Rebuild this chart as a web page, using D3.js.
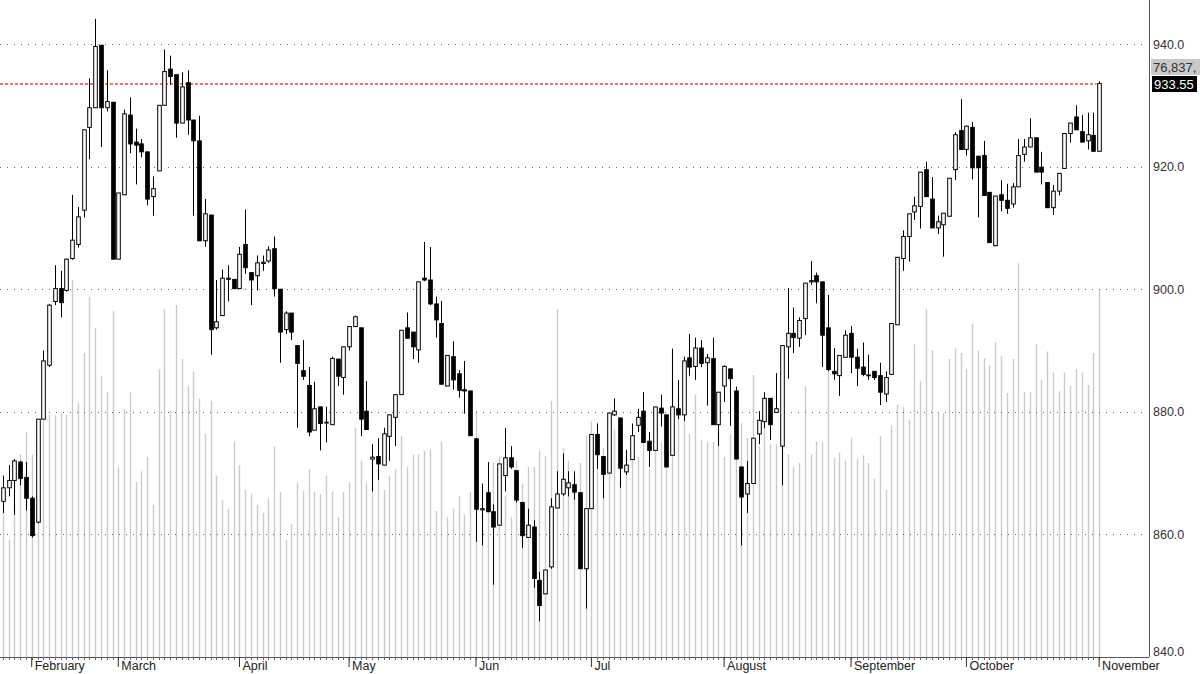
<!DOCTYPE html>
<html><head><meta charset="utf-8">
<script src="https://cdn.jsdelivr.net/npm/d3@7"></script>
<style>body{margin:0;background:#fff} svg{display:block;font-family:"Liberation Sans",Arial,sans-serif}</style>
</head><body>
<svg id="c" width="1200" height="674"></svg>
<script>
const opens = [
865.4,867.6,868.8,871.8,869.3,865.9,862.0,878.8,887.6,898.0,900.1,899.8,905.0,907.3,912.9,926.4,929.6,939.8,929.6,930.5,904.9,915.4,928.4,924.0,
923.7,922.4,915.1,919.3,930.0,935.9,935.0,927.1,933.7,927.6,924.2,907.9,912.1,893.7,895.7,901.6,901.6,900.1,907.3,902.7,902.2,904.2,904.6,906.6,
900.0,893.4,896.1,890.8,886.7,884.3,877.0,880.8,878.3,877.9,888.6,885.6,890.6,893.9,893.7,880.1,872.3,872.7,871.3,876.0,879.1,882.8,893.7,
893.0,890.1,901.8,901.5,897.6,894.4,884.2,889.0,886.2,883.6,883.4,875.6,864.0,866.8,863.7,861.5,869.6,872.5,870.4,865.2,859.5,861.2,852.5,850.3,
854.7,864.3,866.6,867.6,868.1,866.8,854.4,864.2,876.3,872.7,870.0,879.5,879.0,870.2,872.2,877.8,880.1,875.2,873.7,880.6,879.5,872.9,880.5,
879.5,888.8,887.4,890.4,888.0,888.7,877.9,884.2,887.0,883.4,871.0,866.6,868.3,876.4,878.4,882.2,879.9,874.4,890.6,892.8,892.0,895.2,901.2,902.2,
901.2,893.7,886.6,885.9,888.9,892.8,888.9,887.3,886.0,886.6,885.9,882.9,886.1,894.2,905.0,908.6,912.6,913.5,919.5,914.7,910.0,910.5,911.9,919.5,
925.9,922.8,926.4,921.7,921.8,915.8,907.1,915.4,914.5,913.9,916.7,922.0,923.2,924.7,919.9,917.4,913.3,916.0,919.7,925.4,928.1,925.7,924.2,925.1,922.5];
const highs = [
869.6,871.3,872.3,872.0,871.8,866.2,878.8,890.0,897.6,903.9,903.0,905.0,915.4,913.4,926.0,934.4,944.1,939.8,935.7,930.5,915.7,929.3,931.3,926.2,
924.5,922.4,918.4,930.0,939.1,938.1,935.0,935.4,935.7,927.6,928.3,914.7,912.1,901.5,903.2,903.9,901.6,906.9,913.0,902.7,905.5,905.5,907.0,908.6,
900.0,896.4,896.1,890.8,891.7,887.3,884.9,880.8,880.8,889.0,888.6,890.6,893.9,895.7,893.7,885.0,874.7,875.7,877.4,879.5,882.8,893.3,896.2,
893.0,901.2,907.7,906.9,898.8,898.1,889.2,891.5,886.8,888.3,883.4,875.6,868.3,871.8,864.9,871.5,877.4,874.4,870.4,865.2,864.2,862.3,853.9,854.2,
865.9,870.3,873.2,870.3,870.3,866.8,864.2,876.3,878.1,872.7,879.8,882.2,879.0,873.8,878.1,880.5,883.2,876.7,880.8,882.8,879.5,890.3,885.2,
889.0,892.7,892.1,891.7,889.4,892.1,883.2,887.6,887.0,884.1,871.0,872.0,875.7,880.1,883.2,882.2,886.3,890.8,900.2,897.0,895.4,901.0,904.6,902.7,
901.2,899.1,890.4,889.2,893.3,894.0,890.3,891.3,889.3,886.6,888.0,886.6,894.4,905.2,909.6,912.3,915.1,919.1,920.8,918.3,912.0,912.4,918.1,925.6,
931.0,926.7,927.3,921.7,924.2,915.8,915.2,917.8,917.2,917.3,924.5,924.5,927.9,924.7,922.4,917.4,917.0,918.9,925.4,927.1,930.0,928.4,928.8,928.8,933.9];
const lows = [
863.5,866.2,863.2,868.0,863.9,859.5,861.8,878.8,887.3,897.4,895.4,899.6,904.8,906.8,911.7,921.2,929.6,923.2,929.0,904.9,904.9,915.4,922.2,917.1,
921.5,913.7,912.0,919.3,930.0,933.4,924.7,927.1,925.2,912.0,907.9,906.9,889.3,893.4,895.7,898.0,900.0,900.1,902.5,897.4,899.8,903.0,904.3,898.8,
888.0,892.7,891.7,877.4,885.2,876.0,877.0,873.7,875.0,877.9,884.2,882.8,890.0,893.9,876.0,877.1,867.0,868.9,871.3,872.0,874.4,882.8,892.0,
888.6,888.0,901.3,897.4,892.1,884.5,884.2,883.6,882.3,879.7,876.1,858.8,858.2,863.7,851.8,861.5,867.0,870.7,865.2,857.8,859.5,851.3,845.8,850.3,
854.4,864.3,866.3,866.2,865.7,854.4,847.9,864.2,870.7,865.9,870.0,879.3,867.6,869.7,872.2,876.7,875.0,871.0,873.7,877.6,871.0,872.9,878.8,
878.5,885.9,885.2,887.3,881.0,877.9,874.4,881.6,877.7,872.3,858.2,863.5,868.3,874.7,877.3,875.4,879.9,868.0,885.4,889.6,890.6,892.5,900.7,897.7,
887.3,886.6,885.2,882.6,888.9,886.3,884.2,885.8,885.2,885.2,881.1,881.6,886.1,894.2,903.0,904.5,911.3,909.9,915.1,910.0,909.0,905.3,911.9,917.8,
922.8,921.8,917.9,911.7,915.3,907.6,907.0,912.7,912.3,913.3,916.7,920.8,923.2,919.1,917.1,913.3,912.1,915.3,919.7,923.9,926.0,924.0,922.8,922.5,922.5];
const closes = [
867.6,868.8,872.0,869.1,865.9,859.8,878.8,888.3,897.4,900.1,897.8,904.9,908.0,911.8,926.0,929.6,939.6,929.6,930.6,904.9,915.7,928.6,923.7,923.5,
922.4,914.7,916.4,930.0,935.5,934.7,927.1,933.0,927.6,924.2,907.9,912.3,893.4,894.7,901.8,901.8,900.1,905.7,903.5,901.5,904.3,904.4,906.4,900.1,
893.0,896.1,893.0,887.9,885.8,876.7,880.5,878.1,878.3,888.7,885.8,890.6,893.9,895.5,878.8,877.1,872.6,871.5,876.4,879.5,882.8,893.3,892.0,
890.6,901.2,901.5,897.6,895.0,884.5,889.2,885.2,883.5,883.4,876.1,864.1,864.2,863.7,861.2,871.5,872.5,871.0,865.6,859.8,861.5,852.8,848.4,854.2,
864.5,866.6,869.0,868.4,866.9,854.4,864.2,876.3,873.0,869.8,879.8,880.1,870.8,871.3,876.1,879.1,875.0,873.7,880.8,879.8,871.0,880.8,879.5,
888.3,887.3,890.4,887.9,888.8,877.9,883.2,887.4,885.4,872.3,866.1,868.3,875.7,878.6,882.2,877.9,880.5,890.8,892.8,892.1,894.9,901.0,901.4,901.2,
892.5,886.9,886.2,889.2,892.5,888.9,887.1,886.1,886.0,885.6,883.2,885.6,894.4,905.2,908.6,912.3,913.6,919.1,915.1,910.0,911.0,912.4,918.1,925.2,
922.8,926.6,919.8,919.8,915.3,907.6,915.2,914.5,913.2,916.7,921.8,923.2,924.7,919.1,919.1,913.3,916.0,918.9,925.4,927.1,926.0,924.0,925.2,922.5,933.55];
// volume in millions of shares
const volumes = [
35.3,24.5,41.0,42.3,47.0,42.3,49.6,50.5,50.5,50.5,50.9,50.5,78.7,53.1,63.5,75.2,68.7,58.7,55.3,72.2,39.7,51.8,55.3,36.6,
38.8,41.8,31.8,60.1,72.6,51.4,73.5,62.2,56.6,59.6,54.0,46.6,53.5,37.9,32.7,31.0,45.0,40.1,34.9,34.0,31.8,30.1,33.1,44.0,
34.5,24.5,27.7,36.4,34.6,39.2,34.5,34.0,37.9,34.6,29.1,34.5,36.4,47.9,41.0,36.4,42.3,38.8,34.9,37.9,39.2,46.2,39.7,
42.3,42.3,43.1,43.3,30.5,44.9,29.2,31.0,33.6,29.7,34.5,51.4,31.0,34.9,40.5,41.8,33.6,29.2,41.0,36.2,39.7,39.7,43.1,42.0,
53.5,72.6,43.6,41.0,37.5,40.5,46.2,49.2,44.4,43.6,44.4,47.5,44.4,43.1,45.0,41.8,45.7,39.2,44.0,44.9,44.0,64.1,54.8,
50.5,46.6,54.8,45.3,44.9,44.9,47.5,41.8,46.6,53.1,48.8,45.7,58.9,44.0,48.3,44.4,44.4,48.3,42.3,39.7,40.5,56.6,42.3,45.0,
44.9,60.5,41.6,42.7,41.0,45.7,41.4,42.1,40.5,37.2,46.2,34.9,48.3,52.7,52.2,49.6,65.3,57.6,72.6,64.0,50.9,50.9,62.2,64.4,
63.5,60.1,69.6,64.0,62.4,60.9,65.7,62.8,55.1,62.2,82.2,55.3,55.3,65.3,57.9,63.8,59.4,55.5,59.4,56.6,60.1,59.4,56.8,63.5,76.837];
const monthLabels = ["February","March","April","May","Jun","Jul","August","September","October","November"];
const monthStart = [5,20,41,60,82,102,125,147,167,190];
const priceTicks = [840,860,880,900,920,940];
const gridTicks = [860,880,900,920,940];

const N = closes.length;
const svg = d3.select("#c");
const plotRight = 1149, bottom = 657;
const FONT = '"Liberation Sans",Arial,sans-serif';

const x = d3.scaleBand().domain(d3.range(N)).range([0, 1102]).paddingInner(0);
const cx = i => Math.round(x(i) + x.bandwidth() / 2) + 0.5;
const y = d3.scaleLinear().domain([840, 940]).range([bottom, 44]);
const yv = d3.scaleLinear().domain([0, 128]).range([bottom, 44]);
const idx = d3.range(N);

// volume bars
svg.append("g").selectAll("line").data(idx).join("line")
  .attr("x1", cx).attr("x2", cx)
  .attr("y1", bottom).attr("y2", i => yv(volumes[i]))
  .attr("stroke", "#cacaca").attr("stroke-width", 1.4);

// grid lines
svg.append("g").selectAll("line").data(gridTicks).join("line")
  .attr("x1", 0).attr("x2", plotRight - 6)
  .attr("y1", d => Math.round(y(d)) + 0.5).attr("y2", d => Math.round(y(d)) + 0.5)
  .attr("stroke", "#666").attr("stroke-dasharray", "1,6");

// last price line
const last = closes[N - 1];
const yl = Math.round(y(last));
svg.append("line")
  .attr("x1", 0).attr("x2", cx(N - 1) - 3)
  .attr("y1", yl).attr("y2", yl)
  .attr("stroke", "#e02828").attr("stroke-width", 1.6).attr("stroke-dasharray", "3,2")
  .attr("stroke-opacity", 0.85);

// candles
const cg = svg.append("g");
cg.selectAll("line.w").data(idx).join("line").attr("class", "w")
  .attr("x1", cx).attr("x2", cx)
  .attr("y1", i => y(highs[i])).attr("y2", i => y(lows[i]))
  .attr("stroke", "#000").attr("stroke-width", 1);
const bw = 3.6;
cg.selectAll("rect").data(idx).join("rect")
  .attr("x", i => cx(i) - bw / 2)
  .attr("width", bw)
  .attr("y", i => y(Math.max(opens[i], closes[i])))
  .attr("height", i => Math.max(0.8, Math.abs(y(opens[i]) - y(closes[i]))))
  .attr("fill", i => closes[i] >= opens[i] ? "#fff" : "#000")
  .attr("stroke", "#000").attr("stroke-width", 1);

// right axis
svg.append("line").attr("x1", plotRight + 0.5).attr("x2", plotRight + 0.5)
  .attr("y1", 0).attr("y2", bottom).attr("stroke", "#555");
const ya = svg.append("g").attr("transform", `translate(${plotRight},0)`)
  .call(d3.axisRight(y).tickValues(priceTicks).tickFormat(d3.format(".1f")).tickSize(0).tickPadding(4));
ya.select(".domain").remove();
ya.selectAll("text").attr("font-size", 12.5).attr("fill", "#333").attr("font-family", FONT)
  .attr("dy", d => d === 840 ? "-0.1em" : "0.32em");

// bottom axis
svg.append("line").attr("x1", 0).attr("x2", plotRight)
  .attr("y1", bottom + 0.5).attr("y2", bottom + 0.5).attr("stroke", "#555");
svg.append("g").selectAll("line").data(idx).join("line")
  .attr("x1", cx).attr("x2", cx)
  .attr("y1", bottom).attr("y2", bottom + 3).attr("stroke", "#666");
const xa = svg.append("g").attr("transform", `translate(0,${bottom})`)
  .call(d3.axisBottom(x).tickValues(monthStart).tickSize(10)
    .tickFormat(d => monthLabels[monthStart.indexOf(d)]));
xa.select(".domain").remove();
xa.selectAll(".tick line").attr("stroke", "#333");
xa.selectAll("text").attr("text-anchor", "start").attr("x", 3).attr("y", 4)
  .attr("font-size", 12.5).attr("fill", "#222").attr("font-family", FONT);

// value tags
const vTagY = 59;
svg.append("rect").attr("x", 1151).attr("y", vTagY).attr("width", 49).attr("height", 16).attr("fill", "#c9c9c9");
svg.append("text").attr("x", 1153).attr("y", vTagY + 12.5).attr("font-size", 13).attr("fill", "#333").attr("font-family", FONT)
  .text(d3.format(",")(Math.round(volumes[N - 1] * 1000)) + ",");
svg.append("rect").attr("x", 1152).attr("y", yl - 8).attr("width", 45).attr("height", 16).attr("fill", "#000");
svg.append("text").attr("x", 1154).attr("y", yl + 4.5).attr("font-size", 13).attr("fill", "#fff").attr("font-family", FONT)
  .text(d3.format(".2f")(last));
</script>
</body></html>
